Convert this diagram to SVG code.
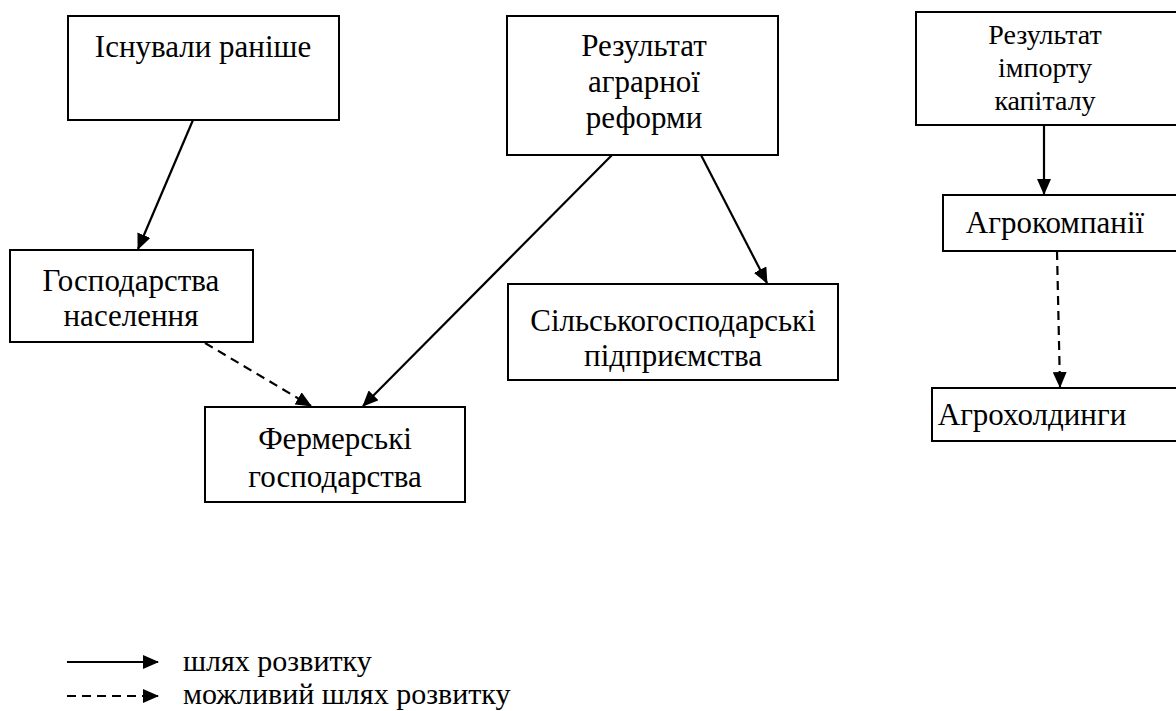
<svg xmlns="http://www.w3.org/2000/svg" width="1176" height="711" viewBox="0 0 1176 711" font-family="Liberation Serif, Times New Roman, Tinos, DejaVu Serif, serif">
  <style>
    .box { fill: #fff; stroke: #000; stroke-width: 2; }
    .lbl { font-size: 31px; fill: #000; text-anchor: middle; }
    .tight { font-size: 28px; }
    .leg { font-size: 30px; fill: #000; }
    .solid { stroke: #000; stroke-width: 2.2; fill: none; marker-end: url(#arrow); }
    .dash { stroke: #000; stroke-width: 2.2; fill: none; stroke-dasharray: 9 6; marker-end: url(#arrow); }
  </style>
  <defs>
    <marker id="arrow" markerUnits="userSpaceOnUse" markerWidth="16" markerHeight="14" refX="15" refY="7" orient="auto">
      <path d="M0,0 L16,7 L0,14 Z" fill="#000"/>
    </marker>
  </defs>

  <rect width="1176" height="711" fill="#fff"/>

  <g id="existed-before">
    <rect class="box" x="68" y="16" width="271" height="104"/>
    <text class="lbl" x="203" y="57">Існували раніше</text>
  </g>

  <g id="agrarian-reform">
    <rect class="box" x="507" y="16" width="271" height="139"/>
    <text class="lbl" x="644" y="56">Результат</text>
    <text class="lbl" x="644" y="92">аграрної</text>
    <text class="lbl" x="644" y="128">реформи</text>
  </g>

  <g id="capital-import">
    <rect class="box" x="916" y="12" width="270" height="113"/>
    <text class="lbl tight" x="1045" y="44">Результат</text>
    <text class="lbl tight" x="1045" y="77">імпорту</text>
    <text class="lbl tight" x="1045" y="110">капіталу</text>
  </g>

  <g id="households">
    <rect class="box" x="10" y="250" width="243" height="92"/>
    <text class="lbl" x="131" y="291">Господарства</text>
    <text class="lbl" x="131" y="326">населення</text>
  </g>

  <g id="farms">
    <rect class="box" x="205" y="407" width="260" height="95"/>
    <text class="lbl" x="335" y="449">Фермерські</text>
    <text class="lbl" x="335" y="487">господарства</text>
  </g>

  <g id="agri-enterprises">
    <rect class="box" x="508" y="284" width="330" height="96"/>
    <text class="lbl" x="673" y="331">Сільськогосподарські</text>
    <text class="lbl" x="673" y="366">підприємства</text>
  </g>

  <g id="agro-companies">
    <rect class="box" x="943" y="195" width="243" height="56"/>
    <text class="lbl" x="1055" y="233">Агрокомпанії</text>
  </g>

  <g id="agro-holdings">
    <rect class="box" x="932" y="388" width="254" height="53"/>
    <text class="lbl" x="1032" y="425">Агрохолдинги</text>
  </g>

  <g id="connectors">
    <line class="solid" x1="193" y1="120" x2="138" y2="249"/>
    <line class="solid" x1="612" y1="155" x2="363" y2="406"/>
    <line class="solid" x1="701" y1="155" x2="767" y2="283"/>
    <line class="dash" x1="205" y1="343" x2="311" y2="406"/>
    <line class="solid" x1="1044" y1="125" x2="1044" y2="194"/>
    <line class="dash" x1="1057" y1="251" x2="1060" y2="387"/>
  </g>

  <g id="legend">
    <line class="solid" x1="67" y1="662" x2="158" y2="662"/>
    <text class="leg" x="183" y="671">шлях розвитку</text>
    <line class="dash" x1="67" y1="696" x2="158" y2="696"/>
    <text class="leg" x="183" y="704">можливий шлях розвитку</text>
  </g>
</svg>
